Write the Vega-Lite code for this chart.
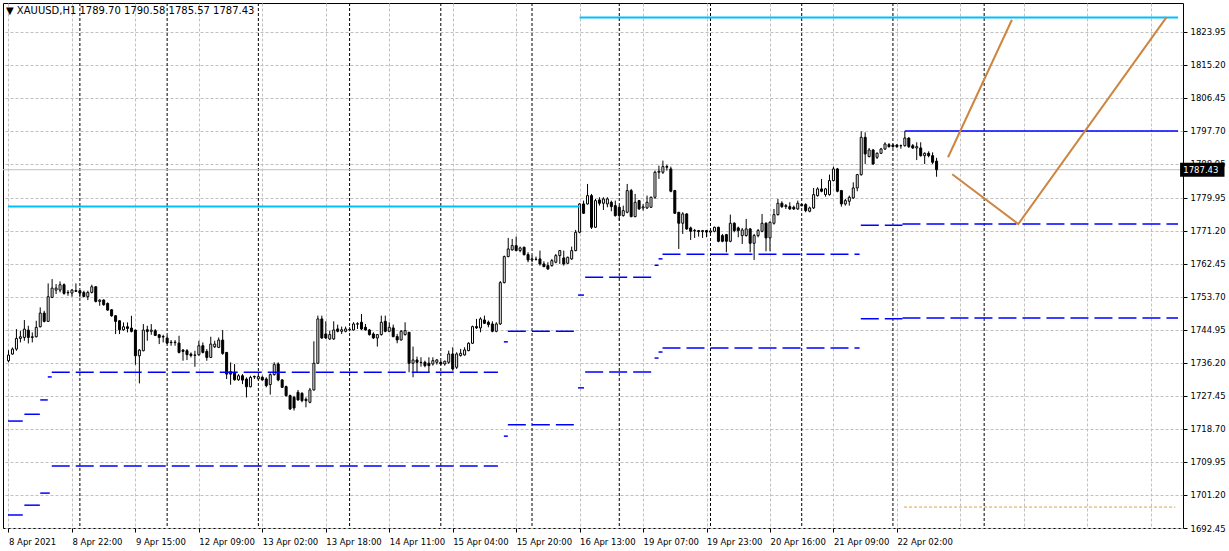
{
 "$schema": "https://vega.github.io/schema/vega-lite/v6.json",
 "autosize": {"type": "none"},
 "width": 1180,
 "height": 525,
 "padding": {"left": 3, "top": 3, "right": 46, "bottom": 23},
 "background": "white",
 "config": {
  "view": {"stroke": "black", "strokeWidth": 1},
  "font": "DejaVu Sans",
  "axis": {"labelOverlap": false, "labelBound": false, "labelFlush": false, "title": null, "domain": false, "grid": true, "gridColor": "#c0c0c0", "gridDash": [3, 2], "gridWidth": 1, "tickSize": 4, "tickColor": "black", "labelColor": "black", "labelFont": "DejaVu Sans", "labelFontSize": 8.5},
  "axisY": {"labelPadding": 3},
  "axisX": {"labelPadding": 5, "labelAlign": "left", "labelBaseline": "top"}
 },
 "title": {"text": "▼ XAUUSD,H1  1789.70 1790.58 1785.57 1787.43", "anchor": "start", "frame": "group", "offset": -13, "dx": 3, "fontSize": 10, "fontWeight": "normal", "color": "black", "font": "DejaVu Sans"},
 "datasets": {
  "candles": [
   {"i":0,"o":1736.8,"h":1739.6,"l":1736.35,"c":1738.3},
   {"i":1,"o":1738.56,"h":1740.3,"l":1738.4,"c":1739.88},
   {"i":2,"o":1739.88,"h":1745.18,"l":1739.44,"c":1742.71},
   {"i":3,"o":1742.71,"h":1744.74,"l":1741.65,"c":1743.15},
   {"i":4,"o":1742.97,"h":1747.57,"l":1742.09,"c":1745.18},
   {"i":5,"o":1744.92,"h":1746.07,"l":1741.38,"c":1742.97},
   {"i":6,"o":1742.97,"h":1744.3,"l":1741.65,"c":1743.15},
   {"i":7,"o":1743.15,"h":1747.39,"l":1742.97,"c":1745.63},
   {"i":8,"o":1745.8,"h":1750.93,"l":1745.63,"c":1749.43},
   {"i":9,"o":1749.43,"h":1750.04,"l":1746.95,"c":1747.22},
   {"i":10,"o":1747.22,"h":1757.29,"l":1747.1,"c":1753.76},
   {"i":11,"o":1753.58,"h":1758.44,"l":1753.4,"c":1756.05},
   {"i":12,"o":1755.52,"h":1757.11,"l":1754.46,"c":1756.05},
   {"i":13,"o":1755.52,"h":1757.82,"l":1754.9,"c":1756.94},
   {"i":14,"o":1756.94,"h":1757.29,"l":1754.29,"c":1754.64},
   {"i":15,"o":1754.9,"h":1755.52,"l":1754.02,"c":1754.8},
   {"i":16,"o":1754.73,"h":1755.79,"l":1753.76,"c":1755.52},
   {"i":17,"o":1755.17,"h":1757.29,"l":1755.1,"c":1755.4},
   {"i":18,"o":1755.35,"h":1755.52,"l":1753.58,"c":1754.73},
   {"i":19,"o":1754.9,"h":1755.35,"l":1753.58,"c":1753.84},
   {"i":20,"o":1753.76,"h":1755.35,"l":1752.87,"c":1754.9},
   {"i":21,"o":1754.9,"h":1756.94,"l":1754.64,"c":1756.41},
   {"i":22,"o":1756.41,"h":1756.5,"l":1752.25,"c":1752.52},
   {"i":23,"o":1752.52,"h":1753.1,"l":1751.37,"c":1752.87},
   {"i":24,"o":1752.87,"h":1753.1,"l":1751.37,"c":1751.64},
   {"i":25,"o":1751.99,"h":1752.25,"l":1750.04,"c":1750.22},
   {"i":26,"o":1750.31,"h":1750.49,"l":1748.45,"c":1748.72},
   {"i":27,"o":1748.72,"h":1748.8,"l":1743.86,"c":1747.22},
   {"i":28,"o":1747.39,"h":1747.5,"l":1743.86,"c":1745.01},
   {"i":29,"o":1745.01,"h":1746.95,"l":1744.74,"c":1745.8},
   {"i":30,"o":1745.8,"h":1746.95,"l":1744.3,"c":1745.36},
   {"i":31,"o":1745.45,"h":1748.72,"l":1744.3,"c":1744.57},
   {"i":32,"o":1744.92,"h":1745.0,"l":1735.73,"c":1738.11},
   {"i":33,"o":1738.11,"h":1739.88,"l":1730.78,"c":1739.62},
   {"i":34,"o":1739.44,"h":1746.51,"l":1739.3,"c":1744.92},
   {"i":35,"o":1745.01,"h":1746.07,"l":1742.09,"c":1744.57},
   {"i":36,"o":1744.6,"h":1746.51,"l":1743.68,"c":1744.9},
   {"i":37,"o":1744.74,"h":1745.18,"l":1743.42,"c":1743.5},
   {"i":38,"o":1743.68,"h":1743.86,"l":1741.21,"c":1742.97},
   {"i":39,"o":1743.2,"h":1743.68,"l":1741.65,"c":1743.1},
   {"i":40,"o":1742.8,"h":1743.42,"l":1741.21,"c":1741.47},
   {"i":41,"o":1741.7,"h":1742.27,"l":1740.77,"c":1741.6},
   {"i":42,"o":1741.6,"h":1742.27,"l":1740.77,"c":1741.7},
   {"i":43,"o":1741.47,"h":1743.42,"l":1738.73,"c":1739.0},
   {"i":44,"o":1739.62,"h":1739.88,"l":1736.79,"c":1739.26},
   {"i":45,"o":1739.44,"h":1739.88,"l":1736.97,"c":1738.38},
   {"i":46,"o":1738.56,"h":1739.0,"l":1737.67,"c":1738.2},
   {"i":47,"o":1738.3,"h":1739.44,"l":1735.2,"c":1738.25},
   {"i":48,"o":1738.38,"h":1742.09,"l":1738.11,"c":1740.77},
   {"i":49,"o":1740.77,"h":1741.65,"l":1738.73,"c":1739.0},
   {"i":50,"o":1739.26,"h":1739.88,"l":1736.79,"c":1737.67},
   {"i":51,"o":1737.67,"h":1743.15,"l":1737.6,"c":1741.21},
   {"i":52,"o":1740.5,"h":1742.09,"l":1740.15,"c":1741.21},
   {"i":53,"o":1740.32,"h":1742.97,"l":1740.15,"c":1742.27},
   {"i":54,"o":1742.27,"h":1744.92,"l":1738.38,"c":1738.73},
   {"i":55,"o":1739.0,"h":1739.1,"l":1731.93,"c":1733.25},
   {"i":56,"o":1733.87,"h":1736.35,"l":1730.43,"c":1733.25},
   {"i":57,"o":1733.7,"h":1735.9,"l":1731.49,"c":1731.75},
   {"i":58,"o":1731.75,"h":1733.25,"l":1731.49,"c":1732.81},
   {"i":59,"o":1732.81,"h":1733.25,"l":1730.6,"c":1731.66},
   {"i":60,"o":1731.93,"h":1732.37,"l":1727.07,"c":1729.9},
   {"i":61,"o":1729.9,"h":1732.81,"l":1729.72,"c":1732.37},
   {"i":62,"o":1732.5,"h":1732.85,"l":1731.96,"c":1732.65},
   {"i":63,"o":1732.0,"h":1732.9,"l":1731.7,"c":1732.58},
   {"i":64,"o":1732.4,"h":1732.85,"l":1731.52,"c":1731.7},
   {"i":65,"o":1731.96,"h":1732.4,"l":1729.75,"c":1730.2},
   {"i":66,"o":1730.46,"h":1733.47,"l":1727.81,"c":1733.11},
   {"i":67,"o":1733.11,"h":1736.38,"l":1732.85,"c":1735.76},
   {"i":68,"o":1735.94,"h":1736.38,"l":1731.35,"c":1731.7},
   {"i":69,"o":1731.7,"h":1731.96,"l":1729.58,"c":1729.75},
   {"i":70,"o":1729.93,"h":1730.2,"l":1727.28,"c":1727.54},
   {"i":71,"o":1727.54,"h":1727.81,"l":1723.74,"c":1724.01},
   {"i":72,"o":1727.1,"h":1727.5,"l":1723.6,"c":1724.27},
   {"i":73,"o":1728.43,"h":1729.05,"l":1726.22,"c":1726.4},
   {"i":74,"o":1728.16,"h":1728.43,"l":1725.78,"c":1726.22},
   {"i":75,"o":1726.57,"h":1727.1,"l":1724.45,"c":1726.22},
   {"i":76,"o":1725.78,"h":1729.58,"l":1725.51,"c":1729.05},
   {"i":77,"o":1729.05,"h":1741.95,"l":1728.87,"c":1736.12},
   {"i":78,"o":1736.12,"h":1748.75,"l":1735.94,"c":1747.87},
   {"i":79,"o":1747.87,"h":1748.75,"l":1742.57,"c":1742.83},
   {"i":80,"o":1743.89,"h":1747.25,"l":1742.57,"c":1742.83},
   {"i":81,"o":1742.57,"h":1744.78,"l":1742.3,"c":1743.72},
   {"i":82,"o":1742.57,"h":1747.25,"l":1742.3,"c":1744.95},
   {"i":83,"o":1745.22,"h":1746.37,"l":1744.33,"c":1744.6},
   {"i":84,"o":1744.6,"h":1745.84,"l":1743.89,"c":1745.0},
   {"i":85,"o":1744.6,"h":1745.84,"l":1744.33,"c":1745.22},
   {"i":86,"o":1745.0,"h":1745.66,"l":1744.6,"c":1745.1},
   {"i":87,"o":1744.95,"h":1746.99,"l":1744.78,"c":1746.54},
   {"i":88,"o":1746.5,"h":1746.99,"l":1745.22,"c":1746.6},
   {"i":89,"o":1746.99,"h":1749.2,"l":1744.95,"c":1745.22},
   {"i":90,"o":1745.66,"h":1746.54,"l":1744.78,"c":1744.95},
   {"i":91,"o":1744.95,"h":1745.22,"l":1743.45,"c":1743.72},
   {"i":92,"o":1743.89,"h":1744.33,"l":1742.57,"c":1742.83},
   {"i":93,"o":1742.83,"h":1743.89,"l":1740.54,"c":1743.72},
   {"i":94,"o":1743.72,"h":1748.75,"l":1743.45,"c":1746.99},
   {"i":95,"o":1747.25,"h":1748.75,"l":1744.33,"c":1744.6},
   {"i":96,"o":1744.6,"h":1746.99,"l":1744.33,"c":1745.66},
   {"i":97,"o":1745.48,"h":1746.37,"l":1743.01,"c":1743.19},
   {"i":98,"o":1743.19,"h":1743.89,"l":1741.42,"c":1742.3},
   {"i":99,"o":1742.3,"h":1744.95,"l":1742.13,"c":1744.6},
   {"i":100,"o":1743.72,"h":1746.99,"l":1743.45,"c":1744.78},
   {"i":101,"o":1744.33,"h":1744.4,"l":1733.73,"c":1736.12},
   {"i":102,"o":1736.12,"h":1740.54,"l":1732.4,"c":1737.0},
   {"i":103,"o":1737.0,"h":1737.89,"l":1733.73,"c":1736.38},
   {"i":104,"o":1736.38,"h":1737.71,"l":1735.23,"c":1736.3},
   {"i":105,"o":1736.38,"h":1736.82,"l":1735.06,"c":1735.5},
   {"i":106,"o":1736.12,"h":1737.71,"l":1733.73,"c":1735.5},
   {"i":107,"o":1735.94,"h":1737.71,"l":1735.5,"c":1736.82},
   {"i":108,"o":1736.38,"h":1737.27,"l":1735.76,"c":1737.0},
   {"i":109,"o":1736.38,"h":1736.8,"l":1735.6,"c":1735.94},
   {"i":110,"o":1735.94,"h":1736.82,"l":1735.5,"c":1736.65},
   {"i":111,"o":1736.38,"h":1739.47,"l":1735.94,"c":1738.59},
   {"i":112,"o":1738.59,"h":1740.36,"l":1734.17,"c":1734.61},
   {"i":113,"o":1735.06,"h":1739.03,"l":1734.61,"c":1738.59},
   {"i":114,"o":1738.15,"h":1739.92,"l":1737.89,"c":1738.77},
   {"i":115,"o":1738.33,"h":1740.36,"l":1738.15,"c":1739.65},
   {"i":116,"o":1739.47,"h":1741.68,"l":1739.3,"c":1741.42},
   {"i":117,"o":1741.42,"h":1746.1,"l":1741.24,"c":1745.84},
   {"i":118,"o":1745.84,"h":1747.87,"l":1745.22,"c":1745.5},
   {"i":119,"o":1745.48,"h":1748.31,"l":1744.33,"c":1747.87},
   {"i":120,"o":1747.6,"h":1748.75,"l":1746.54,"c":1746.72},
   {"i":121,"o":1746.99,"h":1747.43,"l":1745.66,"c":1746.37},
   {"i":122,"o":1746.54,"h":1747.25,"l":1744.33,"c":1744.6},
   {"i":123,"o":1744.6,"h":1746.99,"l":1744.33,"c":1746.54},
   {"i":124,"o":1746.54,"h":1757.9,"l":1746.3,"c":1757.5},
   {"i":125,"o":1757.5,"h":1764.66,"l":1757.3,"c":1764.4},
   {"i":126,"o":1764.4,"h":1769.35,"l":1764.22,"c":1766.43},
   {"i":127,"o":1766.17,"h":1769.08,"l":1765.99,"c":1767.31},
   {"i":128,"o":1767.31,"h":1769.7,"l":1765.81,"c":1765.99},
   {"i":129,"o":1765.99,"h":1767.05,"l":1765.55,"c":1766.7},
   {"i":130,"o":1766.87,"h":1767.05,"l":1764.66,"c":1764.93},
   {"i":131,"o":1764.93,"h":1765.55,"l":1762.9,"c":1763.51},
   {"i":132,"o":1763.51,"h":1764.66,"l":1762.9,"c":1763.78},
   {"i":133,"o":1763.7,"h":1764.4,"l":1763.34,"c":1763.65},
   {"i":134,"o":1763.78,"h":1765.99,"l":1762.01,"c":1762.45},
   {"i":135,"o":1762.45,"h":1763.16,"l":1761.57,"c":1761.75},
   {"i":136,"o":1762.01,"h":1762.9,"l":1760.86,"c":1761.13},
   {"i":137,"o":1762.01,"h":1763.78,"l":1761.75,"c":1763.34},
   {"i":138,"o":1762.9,"h":1765.1,"l":1762.63,"c":1764.66},
   {"i":139,"o":1764.66,"h":1766.17,"l":1762.45,"c":1765.99},
   {"i":140,"o":1764.04,"h":1765.99,"l":1762.01,"c":1762.45},
   {"i":141,"o":1762.63,"h":1764.4,"l":1762.45,"c":1764.22},
   {"i":142,"o":1763.78,"h":1767.05,"l":1763.51,"c":1765.99},
   {"i":143,"o":1765.99,"h":1771.47,"l":1765.81,"c":1770.85},
   {"i":144,"o":1770.85,"h":1778.54,"l":1770.58,"c":1778.36},
   {"i":145,"o":1778.36,"h":1779.24,"l":1775.71,"c":1775.89},
   {"i":146,"o":1778.36,"h":1783.66,"l":1778.18,"c":1780.57},
   {"i":147,"o":1780.57,"h":1781.01,"l":1771.73,"c":1772.17},
   {"i":148,"o":1772.17,"h":1779.69,"l":1772.0,"c":1779.24},
   {"i":149,"o":1779.42,"h":1780.13,"l":1777.92,"c":1778.54},
   {"i":150,"o":1778.54,"h":1780.13,"l":1776.77,"c":1779.69},
   {"i":151,"o":1778.36,"h":1780.13,"l":1777.48,"c":1779.69},
   {"i":152,"o":1778.8,"h":1779.24,"l":1776.42,"c":1777.65},
   {"i":153,"o":1777.92,"h":1779.24,"l":1775.0,"c":1775.27},
   {"i":154,"o":1777.48,"h":1777.92,"l":1773.94,"c":1775.27},
   {"i":155,"o":1775.27,"h":1777.92,"l":1775.0,"c":1776.59},
   {"i":156,"o":1776.15,"h":1783.66,"l":1775.89,"c":1781.9},
   {"i":157,"o":1781.9,"h":1782.34,"l":1774.83,"c":1775.0},
   {"i":158,"o":1775.0,"h":1781.01,"l":1774.83,"c":1778.8},
   {"i":159,"o":1779.24,"h":1779.42,"l":1776.77,"c":1777.03},
   {"i":160,"o":1777.3,"h":1778.36,"l":1776.59,"c":1777.6},
   {"i":161,"o":1777.3,"h":1780.57,"l":1777.03,"c":1778.8},
   {"i":162,"o":1777.48,"h":1780.3,"l":1777.3,"c":1780.13},
   {"i":163,"o":1780.13,"h":1787.2,"l":1779.69,"c":1786.76},
   {"i":164,"o":1786.76,"h":1788.52,"l":1784.99,"c":1787.02},
   {"i":165,"o":1786.76,"h":1789.85,"l":1786.31,"c":1788.26},
   {"i":166,"o":1788.26,"h":1788.79,"l":1787.2,"c":1788.1},
   {"i":167,"o":1787.64,"h":1788.26,"l":1781.45,"c":1781.72},
   {"i":168,"o":1781.9,"h":1782.08,"l":1775.71,"c":1775.89},
   {"i":169,"o":1776.15,"h":1776.2,"l":1766.43,"c":1773.24},
   {"i":170,"o":1773.24,"h":1776.15,"l":1770.41,"c":1775.71},
   {"i":171,"o":1775.71,"h":1775.89,"l":1771.47,"c":1771.73},
   {"i":172,"o":1772.0,"h":1772.35,"l":1768.82,"c":1771.11},
   {"i":173,"o":1771.2,"h":1771.73,"l":1769.35,"c":1771.35},
   {"i":174,"o":1771.29,"h":1771.47,"l":1769.7,"c":1771.03},
   {"i":175,"o":1771.03,"h":1771.47,"l":1769.35,"c":1771.29},
   {"i":176,"o":1771.29,"h":1771.47,"l":1769.52,"c":1770.9},
   {"i":177,"o":1770.9,"h":1771.4,"l":1770.6,"c":1771.2},
   {"i":178,"o":1771.11,"h":1772.35,"l":1770.85,"c":1772.17},
   {"i":179,"o":1772.17,"h":1772.35,"l":1768.2,"c":1768.46},
   {"i":180,"o":1769.97,"h":1770.41,"l":1768.2,"c":1768.46},
   {"i":181,"o":1770.23,"h":1770.41,"l":1765.55,"c":1768.46},
   {"i":182,"o":1768.46,"h":1775.53,"l":1768.2,"c":1773.24},
   {"i":183,"o":1773.24,"h":1773.5,"l":1770.85,"c":1771.29},
   {"i":184,"o":1772.0,"h":1772.35,"l":1769.52,"c":1771.29},
   {"i":185,"o":1769.97,"h":1772.0,"l":1767.76,"c":1771.47},
   {"i":186,"o":1769.97,"h":1774.38,"l":1769.7,"c":1771.73},
   {"i":187,"o":1771.73,"h":1772.0,"l":1765.55,"c":1767.93},
   {"i":188,"o":1767.93,"h":1770.41,"l":1763.51,"c":1769.97},
   {"i":189,"o":1769.97,"h":1771.73,"l":1769.52,"c":1771.29},
   {"i":190,"o":1771.11,"h":1775.71,"l":1770.85,"c":1773.24},
   {"i":191,"o":1773.24,"h":1773.5,"l":1765.81,"c":1769.35},
   {"i":192,"o":1769.35,"h":1773.77,"l":1765.81,"c":1773.5},
   {"i":193,"o":1773.24,"h":1777.03,"l":1772.88,"c":1775.53},
   {"i":194,"o":1775.53,"h":1779.69,"l":1775.27,"c":1778.54},
   {"i":195,"o":1778.54,"h":1779.07,"l":1777.3,"c":1777.65},
   {"i":196,"o":1777.65,"h":1778.36,"l":1777.03,"c":1777.92},
   {"i":197,"o":1777.65,"h":1778.8,"l":1776.77,"c":1777.03},
   {"i":198,"o":1777.48,"h":1777.92,"l":1776.77,"c":1777.03},
   {"i":199,"o":1777.03,"h":1779.24,"l":1776.77,"c":1778.54},
   {"i":200,"o":1778.2,"h":1778.5,"l":1777.7,"c":1777.9},
   {"i":201,"o":1778.18,"h":1778.54,"l":1776.15,"c":1776.59},
   {"i":202,"o":1776.42,"h":1777.65,"l":1776.15,"c":1777.3},
   {"i":203,"o":1777.3,"h":1782.6,"l":1777.03,"c":1780.83},
   {"i":204,"o":1780.57,"h":1782.78,"l":1780.3,"c":1782.34},
   {"i":205,"o":1782.34,"h":1784.99,"l":1781.45,"c":1781.72},
   {"i":206,"o":1780.83,"h":1782.6,"l":1780.3,"c":1782.34},
   {"i":207,"o":1780.83,"h":1786.14,"l":1780.57,"c":1784.55},
   {"i":208,"o":1784.55,"h":1788.26,"l":1784.37,"c":1787.64},
   {"i":209,"o":1787.64,"h":1787.9,"l":1781.45,"c":1781.72},
   {"i":210,"o":1781.9,"h":1782.07,"l":1777.65,"c":1778.36},
   {"i":211,"o":1778.36,"h":1779.69,"l":1777.92,"c":1779.24},
   {"i":212,"o":1779.07,"h":1780.57,"l":1777.92,"c":1780.13},
   {"i":213,"o":1779.95,"h":1784.1,"l":1779.69,"c":1782.6},
   {"i":214,"o":1782.6,"h":1786.31,"l":1781.72,"c":1786.14},
   {"i":215,"o":1786.12,"h":1797.61,"l":1785.86,"c":1796.02},
   {"i":216,"o":1796.02,"h":1797.35,"l":1788.95,"c":1791.6},
   {"i":217,"o":1790.9,"h":1793.2,"l":1790.72,"c":1792.66},
   {"i":218,"o":1792.66,"h":1792.93,"l":1788.77,"c":1788.95},
   {"i":219,"o":1790.72,"h":1792.04,"l":1790.28,"c":1791.78},
   {"i":220,"o":1791.78,"h":1793.2,"l":1791.6,"c":1792.93},
   {"i":221,"o":1792.93,"h":1794.7,"l":1792.66,"c":1794.25},
   {"i":222,"o":1794.07,"h":1794.5,"l":1793.3,"c":1793.55},
   {"i":223,"o":1793.98,"h":1794.3,"l":1793.3,"c":1793.55},
   {"i":224,"o":1793.98,"h":1794.2,"l":1793.2,"c":1793.55},
   {"i":225,"o":1793.8,"h":1794.1,"l":1793.0,"c":1793.8},
   {"i":226,"o":1793.81,"h":1797.7,"l":1793.55,"c":1795.84},
   {"i":227,"o":1795.84,"h":1796.0,"l":1793.2,"c":1793.55},
   {"i":228,"o":1793.81,"h":1794.25,"l":1792.93,"c":1793.2},
   {"i":229,"o":1793.2,"h":1794.7,"l":1790.0,"c":1793.55},
   {"i":230,"o":1793.2,"h":1794.7,"l":1790.9,"c":1791.16},
   {"i":231,"o":1791.16,"h":1792.04,"l":1788.95,"c":1791.78},
   {"i":232,"o":1791.78,"h":1792.3,"l":1790.72,"c":1791.16},
   {"i":233,"o":1791.16,"h":1792.04,"l":1788.95,"c":1789.4},
   {"i":234,"o":1789.7,"h":1790.58,"l":1785.57,"c":1787.43}
  ],
  "levels": [
   {"k":"cyan","x1":-0.125,"x2":144,"p":1777.65},
   {"k":"cyan","x1":144,"x2":294.875,"p":1827.8},
   {"k":"blue","x1":226,"x2":294.875,"p":1797.7},
   {"k":"gold","x1":225.8,"x2":294.2,"p":1698.0},
   {"k":"step","x1":-0.125,"x2":3.6,"p":1720.8},
   {"k":"step","x1":4,"x2":7.9,"p":1722.6},
   {"k":"step","x1":8,"x2":9.9,"p":1726.4},
   {"k":"step","x1":9.9,"x2":10.9,"p":1732.5},
   {"k":"step","x1":10.9,"x2":123.4,"p":1733.73},
   {"k":"step","x1":124.9,"x2":125.9,"p":1741.8},
   {"k":"step","x1":125.9,"x2":143.4,"p":1744.6},
   {"k":"step","x1":143.6,"x2":145.1,"p":1754.2},
   {"k":"step","x1":145.4,"x2":162.1,"p":1758.9},
   {"k":"step","x1":162.9,"x2":163.9,"p":1762.1},
   {"k":"step","x1":163.9,"x2":164.9,"p":1763.8},
   {"k":"step","x1":164.9,"x2":214.6,"p":1765.0},
   {"k":"step","x1":214.9,"x2":225.4,"p":1772.7},
   {"k":"step","x1":225.4,"x2":294.875,"p":1773.05},
   {"k":"step","x1":-0.125,"x2":3.6,"p":1695.9},
   {"k":"step","x1":4,"x2":7.9,"p":1698.5},
   {"k":"step","x1":8,"x2":10.4,"p":1701.7},
   {"k":"step","x1":10.9,"x2":123.4,"p":1708.9},
   {"k":"step","x1":124.9,"x2":125.9,"p":1716.8},
   {"k":"step","x1":125.9,"x2":143.4,"p":1719.8},
   {"k":"step","x1":143.6,"x2":145.1,"p":1729.6},
   {"k":"step","x1":145.4,"x2":162.1,"p":1733.8},
   {"k":"step","x1":162.9,"x2":163.9,"p":1737.5},
   {"k":"step","x1":163.9,"x2":164.9,"p":1739.1},
   {"k":"step","x1":164.9,"x2":214.6,"p":1740.2},
   {"k":"step","x1":214.9,"x2":225.4,"p":1747.9},
   {"k":"step","x1":225.4,"x2":294.875,"p":1748.15}
  ],
  "seps": [{"i":18},{"i":40},{"i":63},{"i":86},{"i":109},{"i":132},{"i":154},{"i":177},{"i":200},{"i":223},{"i":246}],
  "forecast": [
   {"seg":"a","i":236.9,"p":1790.73},
   {"seg":"a","i":253.0,"p":1827.2},
   {"seg":"b","i":237.95,"p":1786.22},
   {"seg":"b","i":254.6,"p":1773.04},
   {"seg":"b","i":292.0,"p":1827.9}
  ],
  "price": [{"p":1787.43}]
 },
 "layer": [
  {
   "data": {"name": "seps"},
   "mark": {"type": "rule", "color": "black", "strokeWidth": 1, "strokeDash": [3, 2]},
   "encoding": {
    "x": {"field": "i", "type": "quantitative", "scale": {"domain": [-0.125, 294.875], "nice": false, "zero": false},
     "axis": {"orient": "bottom", "values": [0,8,16,24,32,40,48,56,64,72,80,88,96,104,112,120,128,136,144,152,160,168,176,184,192,200,208,216,224,232,240,248,256,264,272,280,288],
      "labelExpr": "datum.value % 16 == 0 && datum.value <= 224 ? ['8 Apr 2021','8 Apr 22:00','9 Apr 15:00','12 Apr 09:00','13 Apr 02:00','13 Apr 18:00','14 Apr 11:00','15 Apr 04:00','15 Apr 20:00','16 Apr 13:00','19 Apr 07:00','19 Apr 23:00','20 Apr 16:00','21 Apr 09:00','22 Apr 02:00'][datum.value / 16] : ''",
      "tickOpacity": {"condition": {"test": "datum.value % 16 == 0 && datum.value <= 224", "value": 1}, "value": 0}}}
   }
  },
  {
   "data": {"name": "price"},
   "mark": {"type": "rule", "color": "#c0c0c0", "strokeWidth": 1},
   "encoding": {
    "y": {"field": "p", "type": "quantitative", "scale": {"domain": [1692.45, 1831.63], "nice": false, "zero": false},
     "axis": {"orient": "right", "values": [1823.95,1815.2,1806.45,1797.7,1788.95,1779.95,1771.2,1762.45,1753.7,1744.95,1736.2,1727.45,1718.7,1709.95,1701.2,1692.45], "format": ".2f"}}
   }
  },
  {
   "data": {"name": "candles"},
   "mark": {"type": "rule", "color": "black", "strokeWidth": 1},
   "encoding": {
    "x": {"field": "i", "type": "quantitative", "scale": {"domain": [-0.125, 294.875], "nice": false, "zero": false}},
    "y": {"field": "l", "type": "quantitative", "scale": {"domain": [1692.45, 1831.63], "nice": false, "zero": false},
     "axis": {"orient": "right", "values": [1823.95,1815.2,1806.45,1797.7,1788.95,1779.95,1771.2,1762.45,1753.7,1744.95,1736.2,1727.45,1718.7,1709.95,1701.2,1692.45], "format": ".2f"}},
    "y2": {"field": "h"}
   }
  },
  {
   "data": {"name": "candles"},
   "mark": {"type": "bar", "size": 2, "stroke": "black", "strokeWidth": 1},
   "encoding": {
    "x": {"field": "i", "type": "quantitative", "scale": {"domain": [-0.125, 294.875], "nice": false, "zero": false}},
    "y": {"field": "o", "type": "quantitative", "scale": {"domain": [1692.45, 1831.63], "nice": false, "zero": false},
     "axis": {"orient": "right", "values": [1823.95,1815.2,1806.45,1797.7,1788.95,1779.95,1771.2,1762.45,1753.7,1744.95,1736.2,1727.45,1718.7,1709.95,1701.2,1692.45], "format": ".2f"}},
    "y2": {"field": "c"},
    "fill": {"condition": {"test": "datum.c < datum.o", "value": "black"}, "value": "white"}
   }
  },
  {
   "data": {"name": "levels"},
   "transform": [{"filter": "datum.k == 'step'"}],
   "mark": {"type": "rule", "color": "#0000ff", "strokeWidth": 1.5, "strokeDash": [18, 6]},
   "encoding": {
    "x": {"field": "x1", "type": "quantitative", "scale": {"domain": [-0.125, 294.875], "nice": false, "zero": false}},
    "x2": {"field": "x2"},
    "y": {"field": "p", "type": "quantitative", "scale": {"domain": [1692.45, 1831.63], "nice": false, "zero": false},
     "axis": {"orient": "right", "values": [1823.95,1815.2,1806.45,1797.7,1788.95,1779.95,1771.2,1762.45,1753.7,1744.95,1736.2,1727.45,1718.7,1709.95,1701.2,1692.45], "format": ".2f"}}
   }
  },
  {
   "data": {"name": "levels"},
   "transform": [{"filter": "datum.k == 'blue'"}],
   "mark": {"type": "rule", "color": "#0000ff", "strokeWidth": 1.5},
   "encoding": {
    "x": {"field": "x1", "type": "quantitative", "scale": {"domain": [-0.125, 294.875], "nice": false, "zero": false}},
    "x2": {"field": "x2"},
    "y": {"field": "p", "type": "quantitative", "scale": {"domain": [1692.45, 1831.63], "nice": false, "zero": false},
     "axis": {"orient": "right", "values": [1823.95,1815.2,1806.45,1797.7,1788.95,1779.95,1771.2,1762.45,1753.7,1744.95,1736.2,1727.45,1718.7,1709.95,1701.2,1692.45], "format": ".2f"}}
   }
  },
  {
   "data": {"name": "levels"},
   "transform": [{"filter": "datum.k == 'cyan'"}],
   "mark": {"type": "rule", "color": "#00bfff", "strokeWidth": 2},
   "encoding": {
    "x": {"field": "x1", "type": "quantitative", "scale": {"domain": [-0.125, 294.875], "nice": false, "zero": false}},
    "x2": {"field": "x2"},
    "y": {"field": "p", "type": "quantitative", "scale": {"domain": [1692.45, 1831.63], "nice": false, "zero": false},
     "axis": {"orient": "right", "values": [1823.95,1815.2,1806.45,1797.7,1788.95,1779.95,1771.2,1762.45,1753.7,1744.95,1736.2,1727.45,1718.7,1709.95,1701.2,1692.45], "format": ".2f"}}
   }
  },
  {
   "data": {"name": "levels"},
   "transform": [{"filter": "datum.k == 'gold'"}],
   "mark": {"type": "rule", "color": "#d9a441", "strokeWidth": 1, "strokeDash": [3, 2]},
   "encoding": {
    "x": {"field": "x1", "type": "quantitative", "scale": {"domain": [-0.125, 294.875], "nice": false, "zero": false}},
    "x2": {"field": "x2"},
    "y": {"field": "p", "type": "quantitative", "scale": {"domain": [1692.45, 1831.63], "nice": false, "zero": false},
     "axis": {"orient": "right", "values": [1823.95,1815.2,1806.45,1797.7,1788.95,1779.95,1771.2,1762.45,1753.7,1744.95,1736.2,1727.45,1718.7,1709.95,1701.2,1692.45], "format": ".2f"}}
   }
  },
  {
   "data": {"name": "forecast"},
   "mark": {"type": "line", "color": "#cd853f", "strokeWidth": 2},
   "encoding": {
    "x": {"field": "i", "type": "quantitative", "scale": {"domain": [-0.125, 294.875], "nice": false, "zero": false}},
    "y": {"field": "p", "type": "quantitative", "scale": {"domain": [1692.45, 1831.63], "nice": false, "zero": false},
     "axis": {"orient": "right", "values": [1823.95,1815.2,1806.45,1797.7,1788.95,1779.95,1771.2,1762.45,1753.7,1744.95,1736.2,1727.45,1718.7,1709.95,1701.2,1692.45], "format": ".2f"}},
    "detail": {"field": "seg"}
   }
  },
  {
   "data": {"name": "price"},
   "mark": {"type": "rect", "color": "black", "clip": false},
   "encoding": {
    "x": {"datum": 295.4, "type": "quantitative", "scale": {"domain": [-0.125, 294.875], "nice": false, "zero": false}},
    "x2": {"datum": 306.6},
    "y": {"datum": 1785.6, "type": "quantitative", "scale": {"domain": [1692.45, 1831.63], "nice": false, "zero": false},
     "axis": {"orient": "right", "values": [1823.95,1815.2,1806.45,1797.7,1788.95,1779.95,1771.2,1762.45,1753.7,1744.95,1736.2,1727.45,1718.7,1709.95,1701.2,1692.45], "format": ".2f"}},
    "y2": {"datum": 1789.3}
   }
  },
  {
   "data": {"name": "price"},
   "mark": {"type": "text", "color": "white", "align": "left", "baseline": "middle", "fontSize": 8.5, "font": "DejaVu Sans", "clip": false},
   "encoding": {
    "x": {"datum": 296.2, "type": "quantitative", "scale": {"domain": [-0.125, 294.875], "nice": false, "zero": false}},
    "y": {"field": "p", "type": "quantitative", "scale": {"domain": [1692.45, 1831.63], "nice": false, "zero": false},
     "axis": {"orient": "right", "values": [1823.95,1815.2,1806.45,1797.7,1788.95,1779.95,1771.2,1762.45,1753.7,1744.95,1736.2,1727.45,1718.7,1709.95,1701.2,1692.45], "format": ".2f"}},
    "text": {"field": "p", "type": "quantitative", "format": ".2f"}
   }
  }
 ]
}
